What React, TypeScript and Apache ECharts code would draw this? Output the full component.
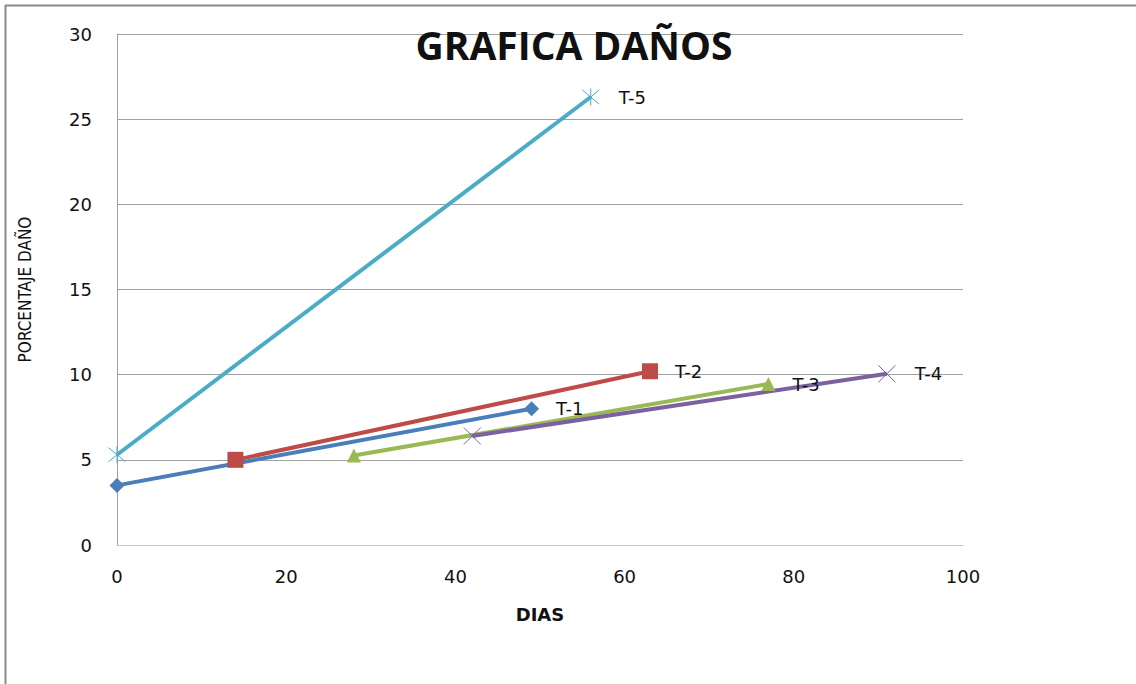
import React, { useEffect, useRef } from "react";
import * as echarts from "echarts";

const seriesNames = ["T-1", "T-2", "T-3", "T-4", "T-5"];
const t1 = [[0, 3.5], [49, 8.0]];
const t2 = [[14, 5.0], [63, 10.2]];
const t3 = [[28, 5.25], [77, 9.45]];
const t4 = [[42, 6.4], [91, 10.05]];
const t5 = [[0, 5.3], [56, 26.3]];
const xTicks = [0, 20, 40, 60, 80, 100];
const yTicks = [0, 5, 10, 15, 20, 25, 30];

const colors = ["#4a7ebb", "#be4b48", "#98b954", "#7d60a0", "#4bacc6"];
const crossPath = "path://M0,0L10,10M10,0L0,10";
const starPath = "path://M0,0L10,10M10,0L0,10M5,-1L5,11";
const symbols = ["diamond", "rect", "triangle", crossPath, starPath];
const symbolSizes = [15, 16, 14, 17, 17];
const FONT = "DejaVu Sans";

export default function App() {
  const ref = useRef<HTMLDivElement>(null);
  useEffect(() => {
    if (!ref.current) return;
    const chart = echarts.init(ref.current, undefined, { renderer: "svg" });
    const all = [t1, t2, t3, t4, t5];
    const series = all.map((d, i) => {
      const open = i >= 3;
      return {
        name: seriesNames[i],
        type: "line",
        data: d.map((p, j) =>
          j === d.length - 1
            ? {
                value: p,
                label: {
                  show: true,
                  position: "right",
                  distance: 17,
                  formatter: seriesNames[i],
                  color: "#111",
                  fontSize: 18,
                  fontFamily: FONT,
                },
              }
            : { value: p }
        ),
        symbol: symbols[i],
        symbolSize: symbolSizes[i],
        showAllSymbol: true,
        lineStyle: { color: colors[i], width: 4 },
        itemStyle: open
          ? { color: "none", borderColor: colors[i], borderWidth: 1 }
          : { color: colors[i], borderColor: colors[i], borderWidth: 0 },
        z: 3,
      };
    });
    chart.setOption({
      animation: false,
      backgroundColor: "#ffffff",
      title: {
        text: "GRAFICA DAÑOS",
        left: 569,
        top: 20,
        textAlign: "center",
        textStyle: {
          fontSize: 39,
          fontWeight: "bold",
          color: "#111",
          fontFamily: "Open Sans",
        },
      },
      grid: { left: 117, right: 173, top: 34, bottom: 139, containLabel: false },
      xAxis: {
        type: "value",
        min: xTicks[0],
        max: xTicks[xTicks.length - 1],
        interval: 20,
        name: "DIAS",
        nameLocation: "middle",
        nameGap: 60,
        nameTextStyle: {
          fontSize: 18,
          fontWeight: "bold",
          color: "#111",
          fontFamily: FONT,
        },
        axisLine: { show: true, lineStyle: { color: "#c8c8c8", width: 1 } },
        axisTick: { show: false },
        splitLine: { show: false },
        axisLabel: {
          margin: 22,
          fontSize: 18,
          color: "#111",
          fontFamily: FONT,
        },
      },
      yAxis: {
        type: "value",
        min: yTicks[0],
        max: yTicks[yTicks.length - 1],
        interval: 5,
        name: "PORCENTAJE DAÑO",
        nameLocation: "middle",
        nameGap: 84,
        nameRotate: 90,
        nameTextStyle: {
          fontSize: 17,
          fontWeight: "normal",
          color: "#111",
          fontFamily: "'DejaVu Sans Condensed', 'DejaVu Sans', sans-serif",
        },
        axisLine: { show: true, lineStyle: { color: "#a0a0a0", width: 1 } },
        axisTick: { show: false },
        splitLine: { show: true, lineStyle: { color: "#a0a0a0", width: 1 } },
        axisLabel: {
          margin: 25,
          fontSize: 18,
          color: "#111",
          fontFamily: FONT,
        },
      },
      graphic: [
        {
          type: "line",
          shape: { x1: 5, y1: 5.5, x2: 1136, y2: 5.5 },
          style: { stroke: "#8a8a8a", lineWidth: 2 },
          silent: true,
        },
        {
          type: "line",
          shape: { x1: 5.5, y1: 5, x2: 5.5, y2: 684 },
          style: { stroke: "#8a8a8a", lineWidth: 2 },
          silent: true,
        },
      ],
      series,
    });
    return () => chart.dispose();
  }, []);
  return (
    <div
      ref={ref}
      style={{ position: "fixed", left: 0, top: 0, width: 1136, height: 684 }}
    />
  );
}
